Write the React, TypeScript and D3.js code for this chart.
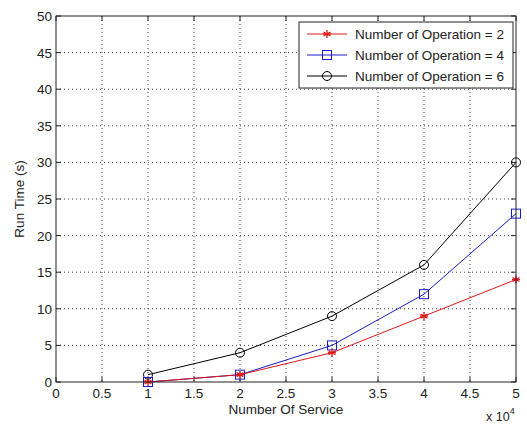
import React from "react";
import * as d3 from "d3";

// Number of services (in units of 10^4)
const services = [1, 2, 3, 4, 5];
// Run time in seconds for each operation count
const op2 = [0, 1, 4, 9, 14];
const op4 = [0, 1, 5, 12, 23];
const op6 = [1, 4, 9, 16, 30];

const xTicks = [0, 0.5, 1, 1.5, 2, 2.5, 3, 3.5, 4, 4.5, 5];
const yTicks = [0, 5, 10, 15, 20, 25, 30, 35, 40, 45, 50];
const legendLabels = [
  "Number of Operation = 2",
  "Number of Operation = 4",
  "Number of Operation = 6",
];

const W = 527;
const H = 425;
const left = 56;
const right = 516;
const top = 16;
const bottom = 382;

const RED = "#e01818";
const BLUE = "#1c1cc8";
const BLACK = "#000000";

const font = "'Liberation Sans', Arial, sans-serif";

type MarkerKind = "star" | "square" | "circle";

function Marker({ kind, x, y, color }: { kind: MarkerKind; x: number; y: number; color: string }) {
  if (kind === "square") {
    return <rect x={x - 4.5} y={y - 4.5} width={9} height={9} fill="none" stroke={color} strokeWidth={1} />;
  }
  if (kind === "circle") {
    return <circle cx={x} cy={y} r={4.5} fill="none" stroke={color} strokeWidth={1} />;
  }
  const r = 4;
  const d = [0, 60, 120]
    .map((a) => {
      const t = ((a + 90) * Math.PI) / 180;
      const dx = r * Math.cos(t);
      const dy = r * Math.sin(t);
      return `M${x - dx},${y - dy}L${x + dx},${y + dy}`;
    })
    .join("");
  return (
    <g>
      <path d={d} stroke={color} strokeWidth={1.3} fill="none" />
      <path d={`M${x - r},${y}L${x + r},${y}`} stroke={color} strokeWidth={1.3} />
    </g>
  );
}

export default function App() {
  const x = d3.scaleLinear().domain([0, 5]).range([left, right]);
  const y = d3.scaleLinear().domain([0, 50]).range([bottom, top]);

  const line = d3
    .line<number>()
    .x((_, i) => x(services[i]))
    .y((v) => y(v));

  const series: { data: number[]; color: string; kind: MarkerKind }[] = [
    { data: op6, color: BLACK, kind: "circle" },
    { data: op4, color: BLUE, kind: "square" },
    { data: op2, color: RED, kind: "star" },
  ];
  const legendSeries = [series[2], series[1], series[0]];

  const tickLen = 5;
  const lgX = 299;
  const lgY = 22;
  const lgW = 214;
  const lgH = 66;
  const rowY = [34, 55, 76];

  return (
    <svg width={W} height={H} style={{ display: "block", position: "absolute", left: 0, top: 0, background: "#fff" }}>
      <rect x={0} y={0} width={W} height={H} fill="#fff" />
      {/* grid */}
      <g stroke="#000" strokeWidth={1} strokeDasharray="1,3" opacity={0.75}>
        {xTicks.slice(1, -1).map((t) => (
          <line key={"gx" + t} x1={x(t)} x2={x(t)} y1={top} y2={bottom} />
        ))}
        {yTicks.slice(1, -1).map((t) => (
          <line key={"gy" + t} x1={left} x2={right} y1={y(t)} y2={y(t)} />
        ))}
      </g>
      {/* ticks on all sides */}
      <g stroke="#222" strokeWidth={1}>
        {xTicks.map((t) => (
          <g key={"tx" + t}>
            <line x1={x(t)} x2={x(t)} y1={bottom} y2={bottom - tickLen} />
            <line x1={x(t)} x2={x(t)} y1={top} y2={top + tickLen} />
          </g>
        ))}
        {yTicks.map((t) => (
          <g key={"ty" + t}>
            <line x1={left} x2={left + tickLen} y1={y(t)} y2={y(t)} />
            <line x1={right} x2={right - tickLen} y1={y(t)} y2={y(t)} />
          </g>
        ))}
      </g>
      {/* data */}
      {series.map((s, si) => (
        <g key={"s" + si}>
          <path d={line(s.data) || ""} fill="none" stroke={s.color} strokeWidth={1} />
          {s.data.map((v, i) => (
            <Marker key={i} kind={s.kind} x={x(services[i])} y={y(v)} color={s.color} />
          ))}
        </g>
      ))}
      {/* axes box */}
      <rect x={left} y={top} width={right - left} height={bottom - top} fill="none" stroke="#222" strokeWidth={1} />
      {/* tick labels */}
      <g fontFamily={font} fontSize={13.5} fill="#222">
        {xTicks.map((t) => (
          <text key={"lx" + t} x={x(t)} y={bottom + 16} textAnchor="middle">
            {String(t)}
          </text>
        ))}
        {yTicks.map((t) => (
          <text key={"ly" + t} x={left - 4} y={y(t) + 5} textAnchor="end">
            {String(t)}
          </text>
        ))}
      </g>
      <text x={(left + right) / 2} y={414} textAnchor="middle" fontFamily={font} fontSize={13.5} fill="#222">
        Number Of Service
      </text>
      <text
        transform={`translate(24, ${(top + bottom) / 2}) rotate(-90)`}
        textAnchor="middle"
        fontFamily={font}
        fontSize={13.5}
        fill="#222"
      >
        Run Time (s)
      </text>
      <text x={486} y={421} fontFamily={font} fontSize={12.5} fill="#222">
        x 10
        <tspan dy={-7} fontSize={9}>
          4
        </tspan>
      </text>
      {/* legend */}
      <rect x={lgX} y={lgY} width={lgW} height={lgH} fill="#fff" stroke="#222" strokeWidth={1} />
      {legendSeries.map((s, i) => (
        <g key={"lg" + i}>
          <line x1={lgX + 8} x2={lgX + 48} y1={rowY[i]} y2={rowY[i]} stroke={s.color} strokeWidth={1} />
          <Marker kind={s.kind} x={lgX + 28} y={rowY[i]} color={s.color} />
          <text x={lgX + 56} y={rowY[i] + 5} fontFamily={font} fontSize={13.5} fill="#222">
            {legendLabels[i]}
          </text>
        </g>
      ))}
    </svg>
  );
}
